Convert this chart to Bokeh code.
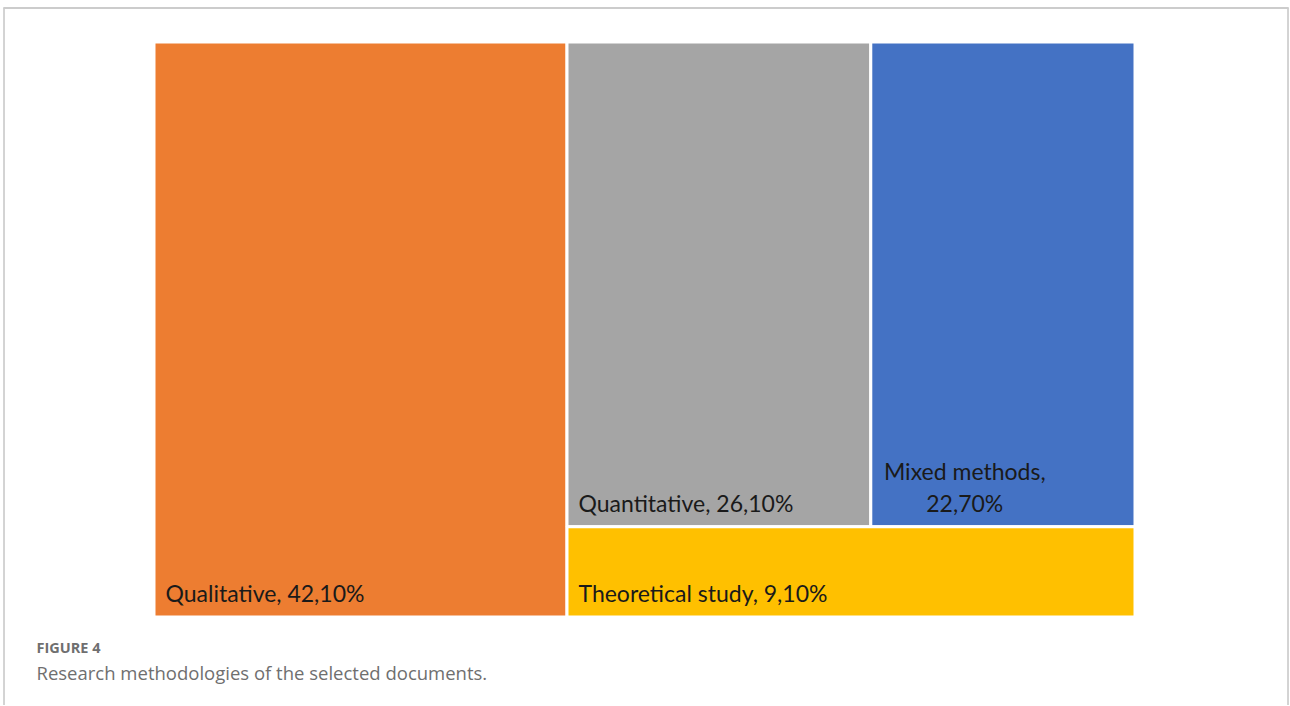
from bokeh.plotting import figure
from bokeh.models import Range1d, ColumnDataSource
from bokeh.core.properties import value
from bokeh.embed import file_html
from bokeh.resources import INLINE

categories = ["Qualitative", "Quantitative", "Mixed methods", "Theoretical study"]
values = [42.1, 26.1, 22.7, 9.1]
colors = ["#ED7D31", "#A5A5A5", "#4472C4", "#FFC000"]
caption_title = "FIGURE 4"
caption_text = "Research methodologies of the selected documents."

OFF = 1.0  # page offset of the figure
W_PAGE, H_PAGE = 1289, 705
p = figure(width=W_PAGE, height=H_PAGE, output_backend="svg", toolbar_location=None,
           x_range=Range1d(OFF, W_PAGE + OFF), y_range=Range1d(H_PAGE + OFF, OFF),
           min_border=0, outline_line_color=None)
p.axis.visible = False
p.grid.visible = False
p.background_fill_color = "white"
p.border_fill_color = "white"

# border lines of the figure box (page coordinates)
p.segment(x0=[4.5], y0=[710], x1=[4.5], y1=[8], line_color="#a8a8a8", line_width=1)
p.segment(x0=[1288.5], y0=[710], x1=[1288.5], y1=[8], line_color="#a8a8a8", line_width=1)
p.segment(x0=[4], y0=[8.5], x1=[1289], y1=[8.5], line_color="#cccccc", line_width=2)

# treemap layout computed from values
X0, Y0, W, H = 154.5, 42.5, 981.0, 575.0
total = sum(values)
q, qt, mx, th = values
wq = W * q / total
rest = total - q
h_th = H * th / rest
w_rest = W - wq
w_qt = w_rest * qt / (qt + mx)
rects = [
    (X0, X0 + wq, Y0, Y0 + H),
    (X0 + wq, X0 + wq + w_qt, Y0, Y0 + H - h_th),
    (X0 + wq + w_qt, X0 + W, Y0, Y0 + H - h_th),
    (X0 + wq, X0 + W, Y0 + H - h_th, Y0 + H),
]
src = ColumnDataSource(dict(
    left=[r[0] for r in rects], right=[r[1] for r in rects],
    top=[r[2] for r in rects], bottom=[r[3] for r in rects], color=colors))
p.quad(left="left", right="right", top="top", bottom="bottom", source=src,
       fill_color="color", line_color="white", line_width=3)

def fmt(v):
    return f"{v:.2f}".replace(".", ",") + "%"

font = value("Lato")
fs = "23px"
lx, ly, lt = [], [], []
for i in (0, 1, 3):
    r = rects[i]
    lx.append(r[0] + 11.5)
    ly.append(r[3] - 24)
    lt.append(f"{categories[i]}, {fmt(values[i])}")
p.text(x=lx, y=ly, text=lt, text_font=font, text_font_size=fs,
       text_color="#1a1a1a", text_align="left", text_baseline="middle")
r = rects[2]
p.text(x=[r[0] + 94, r[0] + 94], y=[r[3] - 56, r[3] - 24],
       text=[categories[2] + ",", fmt(values[2])], text_font=font, text_font_size=fs,
       text_color="#1a1a1a", text_align="center", text_baseline="middle")

# caption
p.text(x=[37], y=[648], text=[caption_title], text_font=value("Open Sans"),
       text_font_size="14.5px", text_font_style="bold", text_color="#6f6f6f",
       text_baseline="middle")
p.text(x=[37], y=[673], text=[caption_text], text_font=value("Open Sans"),
       text_font_size="18.5px", text_color="#6f6f6f", text_baseline="middle")

open("out.html", "w").write(file_html(p, INLINE))
